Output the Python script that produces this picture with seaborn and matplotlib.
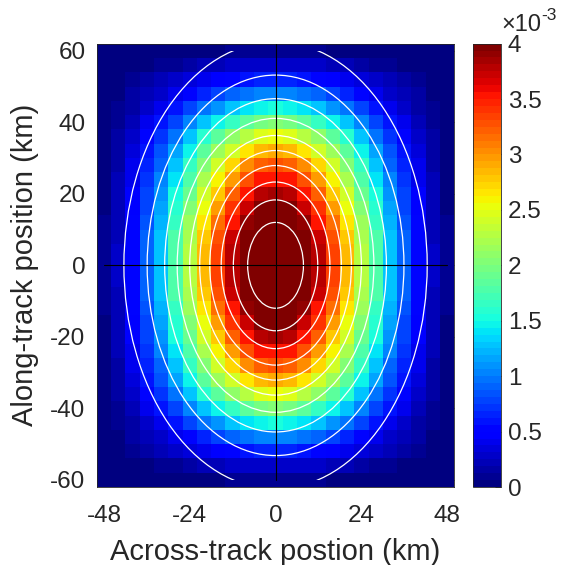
import numpy as np
import pandas as pd
import matplotlib
matplotlib.use("Agg")
import matplotlib.pyplot as plt
import seaborn as sns
from matplotlib.patches import Ellipse, Rectangle
from matplotlib.transforms import Affine2D

# Cell centres (km)
across_km = [-48, -44, -40, -36, -32, -28, -24, -20, -16, -12, -8, -4, 0,
             4, 8, 12, 16, 20, 24, 28, 32, 36, 40, 44, 48]
along_km = [60, 56, 52, 48, 44, 40, 36, 32, 28, 24, 20, 16, 12, 8, 4, 0,
            -4, -8, -12, -16, -20, -24, -28, -32, -36, -40, -44, -48, -52, -56, -60]

# Footprint weights per cell, in units of 1e-3 (rows follow along_km)
weights_milli = [
    [0.00,0.00,0.01,0.02,0.02,0.03,0.04,0.05,0.06,0.07,0.07,0.08,0.08,0.08,0.07,0.07,0.06,0.05,0.04,0.03,0.02,0.02,0.01,0.00,0.00],
    [0.00,0.02,0.04,0.06,0.09,0.12,0.15,0.19,0.22,0.25,0.28,0.30,0.30,0.30,0.28,0.25,0.22,0.19,0.15,0.12,0.09,0.06,0.04,0.02,0.00],
    [0.01,0.04,0.08,0.13,0.19,0.26,0.33,0.41,0.48,0.54,0.60,0.64,0.65,0.64,0.60,0.54,0.48,0.41,0.33,0.26,0.19,0.13,0.08,0.04,0.01],
    [0.02,0.06,0.13,0.21,0.30,0.42,0.53,0.66,0.77,0.88,0.97,1.04,1.05,1.04,0.97,0.88,0.77,0.66,0.53,0.42,0.30,0.21,0.13,0.06,0.02],
    [0.02,0.08,0.18,0.30,0.43,0.59,0.76,0.94,1.10,1.25,1.38,1.48,1.50,1.48,1.38,1.25,1.10,0.94,0.76,0.59,0.43,0.30,0.18,0.08,0.02],
    [0.03,0.11,0.24,0.40,0.57,0.79,1.01,1.25,1.47,1.67,1.85,1.98,2.00,1.98,1.85,1.67,1.47,1.25,1.01,0.79,0.57,0.40,0.24,0.11,0.03],
    [0.04,0.14,0.30,0.50,0.72,0.99,1.26,1.57,1.84,2.09,2.31,2.47,2.50,2.47,2.31,2.09,1.84,1.57,1.26,0.99,0.72,0.50,0.30,0.14,0.04],
    [0.04,0.16,0.35,0.57,0.83,1.15,1.46,1.82,2.13,2.42,2.68,2.87,2.90,2.87,2.68,2.42,2.13,1.82,1.46,1.15,0.83,0.57,0.35,0.16,0.04],
    [0.05,0.18,0.39,0.64,0.93,1.29,1.64,2.03,2.39,2.71,3.00,3.21,3.25,3.21,3.00,2.71,2.39,2.03,1.64,1.29,0.93,0.64,0.39,0.18,0.05],
    [0.05,0.20,0.43,0.70,1.02,1.41,1.79,2.22,2.61,2.96,3.28,3.51,3.55,3.51,3.28,2.96,2.61,2.22,1.79,1.41,1.02,0.70,0.43,0.20,0.05],
    [0.06,0.21,0.46,0.76,1.09,1.51,1.93,2.39,2.81,3.19,3.53,3.78,3.82,3.78,3.53,3.19,2.81,2.39,1.93,1.51,1.09,0.76,0.46,0.21,0.06],
    [0.06,0.22,0.49,0.80,1.16,1.60,2.05,2.54,2.98,3.38,3.74,4.01,4.05,4.01,3.74,3.38,2.98,2.54,2.05,1.60,1.16,0.80,0.49,0.22,0.06],
    [0.07,0.23,0.51,0.84,1.22,1.68,2.15,2.66,3.13,3.55,3.92,4.20,4.25,4.20,3.92,3.55,3.13,2.66,2.15,1.68,1.22,0.84,0.51,0.23,0.07],
    [0.07,0.24,0.53,0.88,1.26,1.75,2.23,2.77,3.25,3.69,4.08,4.37,4.42,4.37,4.08,3.69,3.25,2.77,2.23,1.75,1.26,0.88,0.53,0.24,0.07],
    [0.07,0.25,0.55,0.89,1.29,1.79,2.28,2.83,3.33,3.77,4.17,4.47,4.52,4.47,4.17,3.77,3.33,2.83,2.28,1.79,1.29,0.89,0.55,0.25,0.07],
    [0.07,0.25,0.55,0.90,1.30,1.80,2.30,2.85,3.35,3.80,4.20,4.50,4.55,4.50,4.20,3.80,3.35,2.85,2.30,1.80,1.30,0.90,0.55,0.25,0.07],
    [0.07,0.25,0.55,0.89,1.29,1.79,2.28,2.83,3.33,3.77,4.17,4.47,4.52,4.47,4.17,3.77,3.33,2.83,2.28,1.79,1.29,0.89,0.55,0.25,0.07],
    [0.07,0.24,0.53,0.88,1.26,1.75,2.23,2.77,3.25,3.69,4.08,4.37,4.42,4.37,4.08,3.69,3.25,2.77,2.23,1.75,1.26,0.88,0.53,0.24,0.07],
    [0.07,0.23,0.51,0.84,1.22,1.68,2.15,2.66,3.13,3.55,3.92,4.20,4.25,4.20,3.92,3.55,3.13,2.66,2.15,1.68,1.22,0.84,0.51,0.23,0.07],
    [0.06,0.22,0.49,0.80,1.16,1.60,2.05,2.54,2.98,3.38,3.74,4.01,4.05,4.01,3.74,3.38,2.98,2.54,2.05,1.60,1.16,0.80,0.49,0.22,0.06],
    [0.06,0.21,0.46,0.76,1.09,1.51,1.93,2.39,2.81,3.19,3.53,3.78,3.82,3.78,3.53,3.19,2.81,2.39,1.93,1.51,1.09,0.76,0.46,0.21,0.06],
    [0.05,0.20,0.43,0.70,1.02,1.41,1.79,2.22,2.61,2.96,3.28,3.51,3.55,3.51,3.28,2.96,2.61,2.22,1.79,1.41,1.02,0.70,0.43,0.20,0.05],
    [0.05,0.18,0.39,0.64,0.93,1.29,1.64,2.03,2.39,2.71,3.00,3.21,3.25,3.21,3.00,2.71,2.39,2.03,1.64,1.29,0.93,0.64,0.39,0.18,0.05],
    [0.04,0.16,0.35,0.57,0.83,1.15,1.46,1.82,2.13,2.42,2.68,2.87,2.90,2.87,2.68,2.42,2.13,1.82,1.46,1.15,0.83,0.57,0.35,0.16,0.04],
    [0.04,0.14,0.30,0.50,0.72,0.99,1.26,1.57,1.84,2.09,2.31,2.47,2.50,2.47,2.31,2.09,1.84,1.57,1.26,0.99,0.72,0.50,0.30,0.14,0.04],
    [0.03,0.11,0.24,0.40,0.57,0.79,1.01,1.25,1.47,1.67,1.85,1.98,2.00,1.98,1.85,1.67,1.47,1.25,1.01,0.79,0.57,0.40,0.24,0.11,0.03],
    [0.02,0.08,0.18,0.30,0.43,0.59,0.76,0.94,1.10,1.25,1.38,1.48,1.50,1.48,1.38,1.25,1.10,0.94,0.76,0.59,0.43,0.30,0.18,0.08,0.02],
    [0.02,0.06,0.13,0.21,0.30,0.42,0.53,0.66,0.77,0.88,0.97,1.04,1.05,1.04,0.97,0.88,0.77,0.66,0.53,0.42,0.30,0.21,0.13,0.06,0.02],
    [0.01,0.04,0.08,0.13,0.19,0.26,0.33,0.41,0.48,0.54,0.60,0.64,0.65,0.64,0.60,0.54,0.48,0.41,0.33,0.26,0.19,0.13,0.08,0.04,0.01],
    [0.00,0.02,0.04,0.06,0.09,0.12,0.15,0.19,0.22,0.25,0.28,0.30,0.30,0.30,0.28,0.25,0.22,0.19,0.15,0.12,0.09,0.06,0.04,0.02,0.00],
    [0.00,0.00,0.01,0.02,0.02,0.03,0.04,0.05,0.06,0.07,0.07,0.08,0.08,0.08,0.07,0.07,0.06,0.05,0.04,0.03,0.02,0.02,0.01,0.00,0.00],
]

# Elliptical footprint contours: semi-axes (km)
contour_semi_across = [42.4, 35.9, 31.0, 27.5, 24.0, 21.2, 18.4, 15.2, 11.8, 7.8]
contour_semi_along = [62.5, 53.2, 46.6, 41.1, 36.3, 32.1, 27.9, 23.3, 18.3, 12.0]

x_ticks = [-48, -24, 0, 24, 48]
y_ticks = [60, 40, 20, 0, -20, -40, -60]
cbar_ticks_milli = [0, 0.5, 1, 1.5, 2, 2.5, 3, 3.5, 4]
cbar_labels = ["0", "0.5", "1", "1.5", "2", "2.5", "3", "3.5", "4"]

sns.set_theme(style="white")
plt.rcParams["font.family"] = ["Liberation Sans", "DejaVu Sans"]
ink = "#262626"

fig = plt.figure(figsize=(5.65, 5.65), dpi=100)
ax = fig.add_axes([0.1712, 0.138, 0.633, 0.7848])
cax = fig.add_axes([0.8378, 0.138, 0.0485, 0.7848])

grid = pd.DataFrame(np.array(weights_milli) * 1e-3, index=along_km, columns=across_km)
sns.heatmap(grid, ax=ax, cbar_ax=cax, cmap=plt.get_cmap("jet", 64),
            vmin=0, vmax=4e-3, xticklabels=False, yticklabels=False)

# map km coordinates onto the heatmap's cell-index coordinates
km_affine = Affine2D().scale(0.25, -0.25).translate(12.5, 15.5)
km = km_affine + ax.transData

clip = Rectangle((-48, -60), 96, 120, transform=km, fill=False, visible=False)
ax.add_patch(clip)
for a, b in zip(contour_semi_across, contour_semi_along):
    e = Ellipse((0, 0), 2 * a, 2 * b, transform=km, fill=False,
                edgecolor="white", linewidth=0.9, zorder=3)
    ax.add_patch(e)
    e.set_clip_path(clip)

ax.plot([0, 0], [-60, 62], transform=km, color="black", lw=0.8, zorder=4)
ax.plot([-48, 48], [0, 0], transform=km, color="black", lw=0.8, zorder=4)

ax.set_xticks(km_affine.transform([[t, 0] for t in x_ticks])[:, 0])
ax.set_xticklabels([str(t) for t in x_ticks])
ax.set_yticks(km_affine.transform([[0, t] for t in y_ticks])[:, 1])
ax.set_yticklabels([str(t) for t in y_ticks], rotation=0)
ax.tick_params(axis="both", direction="in", length=4, width=0.6, colors=ink,
               labelsize=17.5, top=True, right=True, labeltop=False, labelright=False)
ax.tick_params(axis="x", pad=13)
ax.tick_params(axis="y", pad=8)
for s in ax.spines.values():
    s.set_visible(True)
    s.set_color(ink)
    s.set_linewidth(0.6)

ax.set_xlabel("Across-track postion (km)", fontsize=21, color=ink, labelpad=8)
ax.set_ylabel("Along-track position (km)", fontsize=21, color=ink, labelpad=8)

cb = ax.collections[0].colorbar
cb.set_ticks([v * 1e-3 for v in cbar_ticks_milli])
cb.set_ticklabels(cbar_labels)
cb.outline.set_visible(True)
cb.outline.set_linewidth(0.6)
cb.outline.set_edgecolor(ink)
cax.tick_params(direction="in", length=4, width=0.6, colors=ink, labelsize=17.5,
                right=True, left=False, pad=5)

fig.text(501 / 565, 1 - 31 / 565, "×10", fontsize=17, color=ink, ha="left", va="baseline")
fig.text(541 / 565, 1 - 20 / 565, "-3", fontsize=12.5, color=ink, ha="left", va="baseline")

fig.savefig("out.png", dpi=100)
